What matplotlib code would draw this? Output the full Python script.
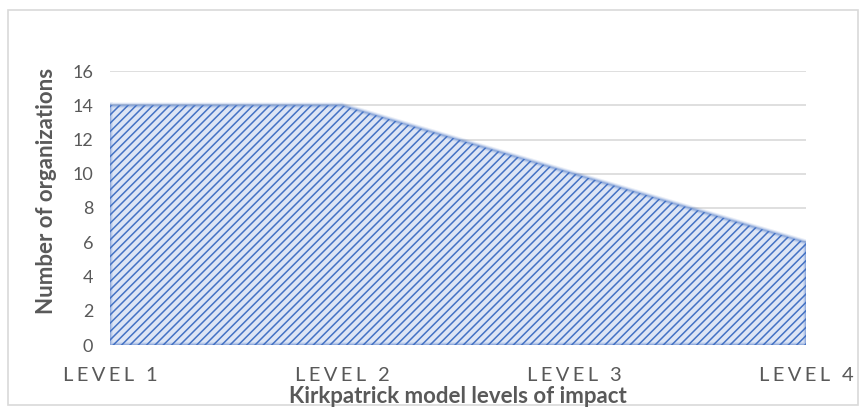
import matplotlib.pyplot as plt
from matplotlib.patches import Rectangle

plt.rcParams['font.family'] = ['Lato', 'DejaVu Sans']
plt.rcParams['hatch.linewidth'] = 1.1

# Organizations evaluating at each Kirkpatrick level
levels = ['LEVEL 1', 'LEVEL 2', 'LEVEL 3', 'LEVEL 4']
counts = [14, 14, 10, 6]
yticks = [0, 2, 4, 6, 8, 10, 12, 14, 16]

grey = '#595959'
blue = '#4472c4'


def spaced(label):
    # widen the letter spacing of the category labels
    word, num = label.split(' ')
    return '\u2006'.join(word) + '\u2006 \u2006' + num


fig = plt.figure(figsize=(8.6, 4.07), dpi=100)
ax = fig.add_axes([110 / 860, 1 - 345 / 407, 696 / 860, 274 / 407])

x = list(range(len(levels)))
ax.fill_between(x, counts, 0, facecolor='#dde5f5', edgecolor=blue,
                hatch='////', linewidth=0, zorder=2)
# soft blue rim around the area
for lw, a in [(4, 0.12), (2.5, 0.2), (1.2, 0.3)]:
    ax.plot(x + x[::-1] + [0], counts + [0] * len(x) + [counts[0]],
            color=blue, lw=lw, alpha=a, zorder=3, solid_joinstyle='miter')

ax.set_xlim(0, len(levels) - 1)
ax.set_ylim(0, 16)
ax.set_yticks(yticks)
ax.set_yticklabels([str(v) for v in yticks], fontsize=13, color=grey)
ax.set_xticks(x)
ax.set_xticklabels([spaced(l) for l in levels], fontsize=14.5, color=grey)
ax.tick_params(length=0)
ax.tick_params(axis='x', pad=16)
ax.tick_params(axis='y', pad=12)
ax.grid(axis='y', color='#d9d9d9', lw=1.2, zorder=0)
for s in ax.spines.values():
    s.set_visible(False)

fig.text(47 / 860, 216 / 407, 'Number of organizations', rotation=90,
         fontsize=16, fontweight='bold', color=grey, ha='center', va='center')
fig.text(458 / 860, 4 / 407, 'Kirkpatrick model levels of impact',
         fontsize=16, fontweight='bold', color=grey, ha='center',
         va='baseline')

# chart border
fig.patches.append(Rectangle((8 / 860, 2 / 407), 850 / 860, 395 / 407,
                             transform=fig.transFigure, fill=False,
                             edgecolor='#d9d9d9', lw=1.2))

fig.savefig('out.png', dpi=100)
